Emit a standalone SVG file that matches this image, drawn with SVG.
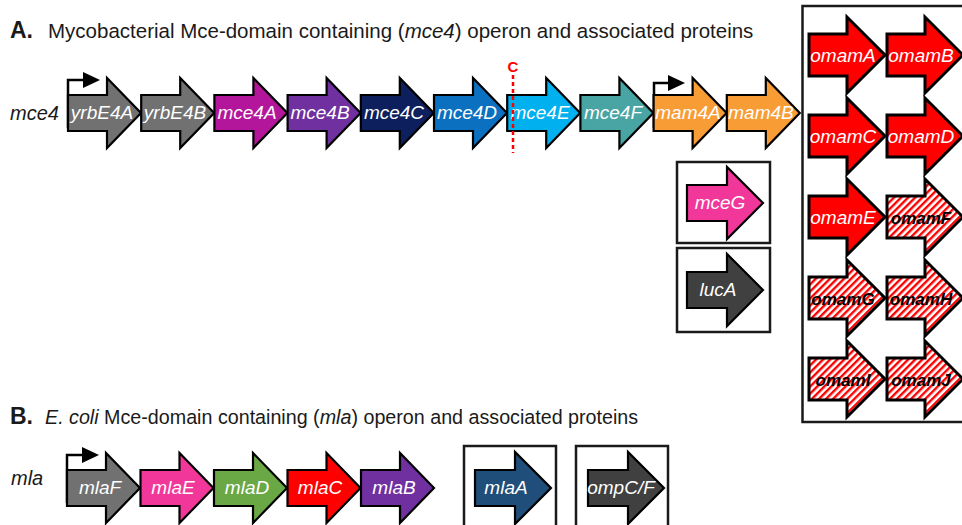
<svg xmlns="http://www.w3.org/2000/svg" xmlns:xlink="http://www.w3.org/1999/xlink" width="962" height="525" viewBox="0 0 962 525">
<style>
text{font-family:"Liberation Sans",Arial,sans-serif;}
.title{fill:#1a1a1a;}
.bold{font-size:23px;font-weight:bold;fill:#1a1a1a;}
.gl{font-size:19px;font-style:italic;fill:#ffffff;text-anchor:middle;}
.hl{font-size:17px;font-style:italic;font-weight:bold;fill:#000;text-anchor:middle;}
.side{font-size:20px;font-style:italic;fill:#1a1a1a;}
.box{fill:#fff;stroke:#1a1a1a;stroke-width:2.5;}
.prom{fill:none;stroke:#000;stroke-width:2.5;}
</style>
<defs>
<path id="gA" d="M0,-18 H39 V-35 L73,0 L39,35 V18 H0 Z" stroke="#000" stroke-width="2.2" stroke-linejoin="miter"/>
<path id="gS" d="M0,-18 H40 V-36 L76,0 L40,36 V18 H0 Z" stroke="#000" stroke-width="2.2"/>
<path id="gO" d="M0,-21 H38 V-38 L76,0 L38,38 V21 H0 Z" stroke="#000" stroke-width="3"/>
<pattern id="hatch" width="5" height="5" patternUnits="userSpaceOnUse" patternTransform="rotate(45)">
<rect width="5" height="5" fill="#ffffff"/>
<rect width="2.4" height="5" fill="#ff0000"/>
</pattern>
</defs>

<rect width="962" height="525" fill="#ffffff"/>

<!-- titles -->
<text class="bold" x="10" y="38">A.</text>
<text class="title" x="48" y="38" font-size="20.5">Mycobacterial Mce-domain containing (<tspan font-style="italic">mce4</tspan>) operon and associated proteins</text>
<text class="bold" x="10" y="424">B.</text>
<text class="title" x="45" y="424" font-size="19.7"><tspan font-style="italic">E. coli</tspan> Mce-domain containing (<tspan font-style="italic">mla</tspan>) operon and associated proteins</text>

<text class="side" x="10" y="120">mce4</text>
<text class="side" x="11" y="485">mla</text>

<!-- right box -->
<rect class="box" x="802.5" y="6" width="170" height="416"/>
<!-- small boxes -->
<rect class="box" x="677" y="162" width="93" height="81"/>
<rect class="box" x="677" y="248" width="93" height="84"/>
<rect class="box" x="464" y="446" width="92" height="90"/>
<rect class="box" x="576" y="446" width="92" height="90"/>

<g id="connectors">
<path class="prom" d="M68,128 V80 H86"/>
<polygon points="83,72 100,80 83,88" fill="#000"/>
<path class="prom" d="M654,128 V83 H671"/>
<polygon points="668,75 685,83 668,91" fill="#000"/>
<path class="prom" d="M67,503 V455 H85"/>
<polygon points="82,447 99,455 82,463" fill="#000"/>
</g>

<!-- row A -->
<g id="yrbE4A"><use xlink:href="#gA" x="68" y="113" fill="#717171"/><text class="gl" x="102" y="119">yrbE4A</text></g>
<g id="yrbE4B"><use xlink:href="#gA" x="141.2" y="113" fill="#717171"/><text class="gl" x="175" y="119">yrbE4B</text></g>
<g id="mce4A"><use xlink:href="#gA" x="214.4" y="113" fill="#b4169b"/><text class="gl" x="247" y="119">mce4A</text></g>
<g id="mce4B"><use xlink:href="#gA" x="287.6" y="113" fill="#7030a0"/><text class="gl" x="320" y="119">mce4B</text></g>
<g id="mce4C"><use xlink:href="#gA" x="360.8" y="113" fill="#0d1f5c"/><text class="gl" x="394" y="119">mce4C</text></g>
<g id="mce4D"><use xlink:href="#gA" x="434" y="113" fill="#0a70bf"/><text class="gl" x="467" y="119">mce4D</text></g>
<g id="mce4E"><use xlink:href="#gA" x="507.2" y="113" fill="#00b0ef"/><text class="gl" x="540" y="119">mce4E</text></g>
<g id="mce4F"><use xlink:href="#gA" x="580.4" y="113" fill="#49a4a4"/><text class="gl" x="613" y="119">mce4F</text></g>
<g id="mam4A"><use xlink:href="#gA" x="653.6" y="113" fill="#f89c36"/><text class="gl" x="688" y="119">mam4A</text></g>
<g id="mam4B"><use xlink:href="#gA" x="726.8" y="113" fill="#f89c36"/><text class="gl" x="761" y="119">mam4B</text></g>

<!-- cut line C -->
<g id="cutC">
<line x1="513" y1="75" x2="513" y2="153" stroke="#ff0000" stroke-width="2.5" stroke-dasharray="4,3"/>
<text x="513" y="72" font-size="15" font-weight="bold" fill="#ff0000" text-anchor="middle">C</text>
</g>

<g id="mceG"><use xlink:href="#gS" x="687" y="203" fill="#f2379a"/><text class="gl" x="720" y="209">mceG</text></g>
<g id="lucA"><use xlink:href="#gS" x="687" y="290" fill="#404040"/><text class="gl" x="718" y="296">lucA</text></g>

<!-- omam -->
<g id="omamA"><use xlink:href="#gO" x="809" y="55" fill="#ff0000"/><text class="gl" x="843" y="62">omamA</text></g>
<g id="omamB"><use xlink:href="#gO" x="887" y="55" fill="#ff0000"/><text class="gl" x="921" y="62">omamB</text></g>
<g id="omamC"><use xlink:href="#gO" x="809" y="136" fill="#ff0000"/><text class="gl" x="843" y="143">omamC</text></g>
<g id="omamD"><use xlink:href="#gO" x="887" y="136" fill="#ff0000"/><text class="gl" x="921" y="143">omamD</text></g>
<g id="omamE"><use xlink:href="#gO" x="809" y="217" fill="#ff0000"/><text class="gl" x="843" y="224">omamE</text></g>
<g id="omamF"><use xlink:href="#gO" x="887" y="217" fill="url(#hatch)"/><text class="hl" x="921" y="224">omamF</text></g>
<g id="omamG"><use xlink:href="#gO" x="809" y="298" fill="url(#hatch)"/><text class="hl" x="843" y="305">omamG</text></g>
<g id="omamH"><use xlink:href="#gO" x="887" y="298" fill="url(#hatch)"/><text class="hl" x="921" y="305">omamH</text></g>
<g id="omamI"><use xlink:href="#gO" x="809" y="379" fill="url(#hatch)"/><text class="hl" x="843" y="386">omamI</text></g>
<g id="omamJ"><use xlink:href="#gO" x="887" y="379" fill="url(#hatch)"/><text class="hl" x="921" y="386">omamJ</text></g>

<!-- row B -->
<g id="mlaF"><use xlink:href="#gA" x="67" y="488" fill="#717171"/><text class="gl" x="100" y="494">mlaF</text></g>
<g id="mlaE"><use xlink:href="#gA" x="140.5" y="488" fill="#f2379a"/><text class="gl" x="173" y="494">mlaE</text></g>
<g id="mlaD"><use xlink:href="#gA" x="214" y="488" fill="#6aa845"/><text class="gl" x="247" y="494">mlaD</text></g>
<g id="mlaC"><use xlink:href="#gA" x="287.5" y="488" fill="#ff0000"/><text class="gl" x="320" y="494">mlaC</text></g>
<g id="mlaB"><use xlink:href="#gA" x="361" y="488" fill="#7030a0"/><text class="gl" x="394" y="494">mlaB</text></g>
<g id="mlaA"><use xlink:href="#gS" x="475" y="488" fill="#1f4e7a"/><text class="gl" x="506" y="494">mlaA</text></g>
<g id="ompCF"><use xlink:href="#gS" x="588" y="488" fill="#404040"/><text class="gl" x="621" y="494">ompC/F</text></g>
</svg>
